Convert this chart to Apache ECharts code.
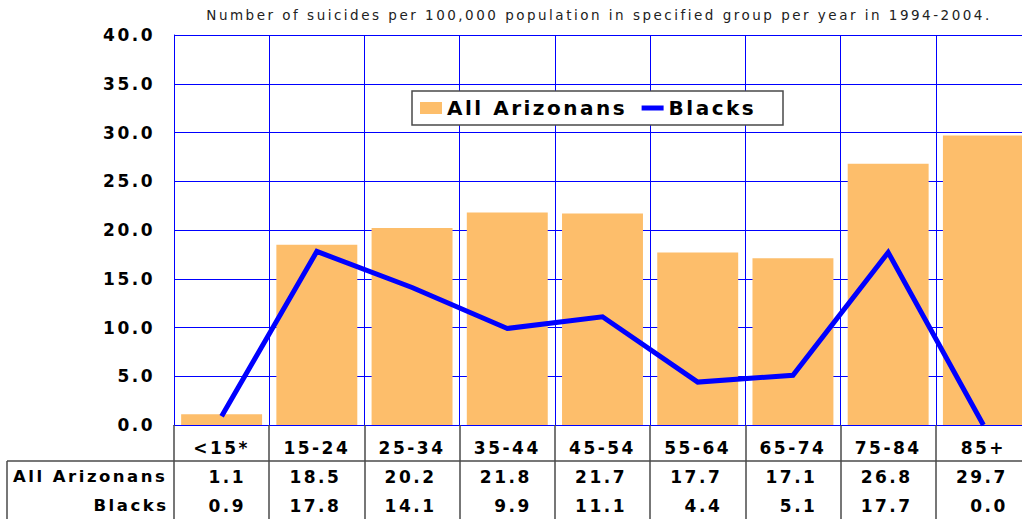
<!DOCTYPE html>
<html>
<head>
<meta charset="utf-8">
<script src="https://cdn.jsdelivr.net/npm/echarts@6/dist/echarts.min.js"></script>
<style>
  html, body { margin: 0; padding: 0; background: #fff; }
  #chart { width: 1022px; height: 519px; }
  #chart text { letter-spacing: 2.5px; }
</style>
</head>
<body>
<div id="chart"></div>
<script>
// == Data ====================================================================
const ageGroups = ['<15*', '15-24', '25-34', '35-44', '45-54', '55-64', '65-74', '75-84', '85+']
const allArizonans = [1.1, 18.5, 20.2, 21.8, 21.7, 17.7, 17.1, 26.8, 29.7]
const blacks = [0.9, 17.8, 14.1, 9.9, 11.1, 4.4, 5.1, 17.7, 0.0]
const yTicks = { min: 0, max: 40, interval: 5 }
const titleText = 'Number of suicides per 100,000 population in specified group per year in 1994-2004.'

// == Styles ==================================================================
const FONT = 'DejaVu Sans'
const BLUE = '#0000ff'
const ORANGE = '#fdbe6b'
const TABLE_LINE = '#4a4a4a'

const fmt = v => v.toFixed(1)

const chart = echarts.init(document.getElementById('chart'), null, { renderer: 'svg' })

chart.setOption({
  animation: false,
  backgroundColor: '#fff',
  textStyle: { fontFamily: FONT },
  title: {
    text: titleText,
    left: 594,
    textAlign: 'center',
    top: 3,
    textStyle: { fontFamily: FONT, fontSize: 13.5, fontWeight: 'normal', color: '#222' }
  },
  // plot runs past the right edge of the picture, as in the original
  grid: { left: 174, top: 35, width: 857, height: 390, containLabel: false, outerBoundsMode: 'none' },
  legend: {
    left: 412,
    top: 91,
    padding: [6, 8, 6, 8],
    itemWidth: 22,
    itemHeight: 12,
    itemGap: 47,
    symbolKeepAspect: true,
    z: 5,
    textStyle: { fontFamily: FONT, fontSize: 20, fontWeight: 'bold', color: '#000', lineHeight: 22 },
    data: [
      { name: 'All Arizonans', icon: 'rect' },
      { name: 'Blacks', icon: 'path://M0,0H22V5H0Z' }
    ]
  },
  xAxis: {
    type: 'category',
    data: ageGroups,
    boundaryGap: true,
    axisLine: { show: true, lineStyle: { color: BLUE, width: 1 } },
    axisTick: { show: true, length: 94, interval: 0, lineStyle: { color: TABLE_LINE, width: 1.5 } },
    splitLine: { show: true, interval: 0, lineStyle: { color: BLUE, width: 1 } },
    axisLabel: {
      interval: 0,
      margin: 8,
      width: 49,
      overflow: 'none',
      formatter: (v, i) => `{c|${v}}\n{v|${fmt(allArizonans[i])}}\n{v|${fmt(blacks[i])}}`,
      rich: {
        c: { fontFamily: FONT, fontSize: 17, fontWeight: 'bold', color: '#000', lineHeight: 29, align: 'center' },
        v: { fontFamily: FONT, fontSize: 17, fontWeight: 'bold', color: '#000', lineHeight: 29, align: 'right' }
      }
    }
  },
  yAxis: {
    type: 'value',
    min: yTicks.min,
    max: yTicks.max,
    interval: yTicks.interval,
    axisLine: { show: true, lineStyle: { color: BLUE, width: 1 } },
    axisTick: { show: false },
    splitLine: { show: true, lineStyle: { color: BLUE, width: 1 } },
    axisLabel: {
      margin: 19,
      formatter: v => fmt(v),
      fontFamily: FONT,
      fontSize: 17,
      fontWeight: 'bold',
      color: '#000'
    }
  },
  graphic: [
    // legend box
    {
      type: 'rect', z: 4,
      shape: { x: 412, y: 91, width: 371, height: 34 },
      style: { fill: '#fff', stroke: TABLE_LINE, lineWidth: 1.5 }
    },
    // data table frame
    {
      type: 'line', z: 4,
      shape: { x1: 7, y1: 461, x2: 1022, y2: 461 },
      style: { stroke: TABLE_LINE, lineWidth: 1.5 }
    },
    {
      type: 'line', z: 4,
      shape: { x1: 7, y1: 461, x2: 7, y2: 519 },
      style: { stroke: TABLE_LINE, lineWidth: 1.5 }
    },
    // row headers
    {
      type: 'text', z: 4, x: 13, y: 476,
      style: { text: 'All Arizonans', font: `bold 16.5px "${FONT}"`, fill: '#000', textAlign: 'left', textVerticalAlign: 'middle' }
    },
    {
      type: 'text', z: 4, x: 168.5, y: 505,
      style: { text: 'Blacks', font: `bold 16.5px "${FONT}"`, fill: '#000', textAlign: 'right', textVerticalAlign: 'middle' }
    }
  ],
  series: [
    {
      name: 'All Arizonans',
      type: 'bar',
      data: allArizonans,
      barCategoryGap: '15%',
      itemStyle: { color: ORANGE },
      z: 2
    },
    {
      name: 'Blacks',
      type: 'line',
      data: blacks,
      symbol: 'none',
      itemStyle: { color: BLUE },
      lineStyle: { color: BLUE, width: 5, join: 'miter' },
      z: 3
    }
  ]
})
</script>
</body>
</html>
